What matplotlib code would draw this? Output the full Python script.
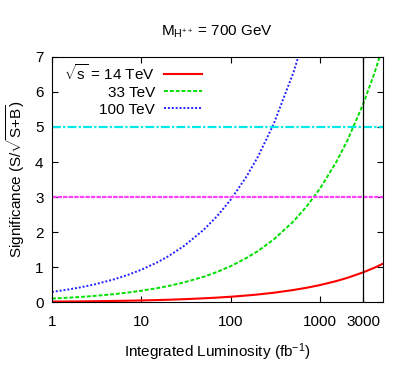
import matplotlib
matplotlib.use("Agg")
import matplotlib.pyplot as plt
from matplotlib import font_manager

names = {f.name for f in font_manager.fontManager.ttflist}
base = "Liberation Sans Narrow" if "Liberation Sans Narrow" in names else "Liberation Sans"
plt.rcParams["font.family"] = [base, "DejaVu Sans"]
plt.rcParams["mathtext.fontset"] = "custom"
plt.rcParams["mathtext.rm"] = base
plt.rcParams["mathtext.it"] = base

# integrated luminosity (fb^-1)
lumi = [1, 1.5, 2, 3, 5, 7, 10, 15, 20, 30, 50, 70, 100, 150, 200, 300,
        500, 700, 1000, 1500, 2000, 3000, 4000, 5000]

sig_14 = [0.016, 0.019, 0.022, 0.027, 0.035, 0.041, 0.049, 0.060, 0.069, 0.085,
          0.110, 0.130, 0.155, 0.190, 0.219, 0.268, 0.347, 0.410, 0.490, 0.600,
          0.693, 0.849, 0.980, 1.096]
sig_33 = [0.103, 0.126, 0.146, 0.178, 0.230, 0.273, 0.326, 0.399, 0.461, 0.564,
          0.728, 0.862, 1.03, 1.262, 1.456, 1.784, 2.303, 2.725, 3.257, 3.989,
          4.606, 5.641, 6.515, 7.283]
sig_100 = [0.293, 0.359, 0.414, 0.507, 0.655, 0.775, 0.926, 1.135, 1.310, 1.605,
           2.072, 2.451, 2.93, 3.589, 4.143, 5.075, 6.551, 7.752, 9.26, 11.35,
           13.10, 16.05, 18.53, 20.72]

xticks = [1, 10, 100, 1000, 3000]
xtick_labels = ["1", "10", "100", "1000", "3000"]

fs = 12 if base.endswith("Narrow") else 11

fig = plt.figure(figsize=(4.09, 3.82), dpi=100)
ax = fig.add_axes([0.127, 0.209, 0.809, 0.642])

ax.plot(lumi, sig_14, color="red", lw=1.5, label=r"$\sqrt{\mathrm{s}}$ = 14 TeV")
ax.plot(lumi, sig_33, color="#00e000", lw=1.4, ls=(0, (2, 1)), label="33 TeV")
ax.plot(lumi, sig_100, color="#2020ff", lw=1.4, ls=(0, (1, 1)), label="100 TeV")

ax.axhline(5, color="#00e8e8", lw=1.6, ls=(0, (4, 1, 1, 1)))
ax.axhline(3, color="#ff40ff", lw=1.6, ls=(0, (2, 0.5)))
ax.axvline(3000, color="black", lw=0.9)

ax.set_xscale("log")
ax.set_xlim(1, 5000)
ax.set_ylim(0, 7)
ax.set_xticks(xticks)
ax.set_xticklabels(xtick_labels)
ax.minorticks_off()
ax.set_yticks(range(8))
ax.tick_params(direction="in", top=True, right=True, labelsize=fs, length=4)
ax.tick_params(axis="x", pad=9)
ax.tick_params(axis="y", pad=6)

ax.set_xlabel(r"Integrated Luminosity (fb$^{-1}$)", fontsize=fs, labelpad=9)
ax.set_ylabel(r"Significance (S/$\sqrt{\mathrm{S{+}B}}$)", fontsize=fs, labelpad=6)
ax.set_title(r"M$_{\mathrm{H}^{++}}$ = 700 GeV", fontsize=fs, pad=15)

leg = ax.legend(loc="upper left", bbox_to_anchor=(0.005, 1.02), frameon=False,
                markerfirst=False, fontsize=fs, handlelength=2.5,
                labelspacing=0.2, handletextpad=0.6, borderaxespad=0.3)
for t in leg.get_texts():
    t.set_ha("right")
leg._legend_box.align = "right"

fig.savefig("out.png", dpi=100)
